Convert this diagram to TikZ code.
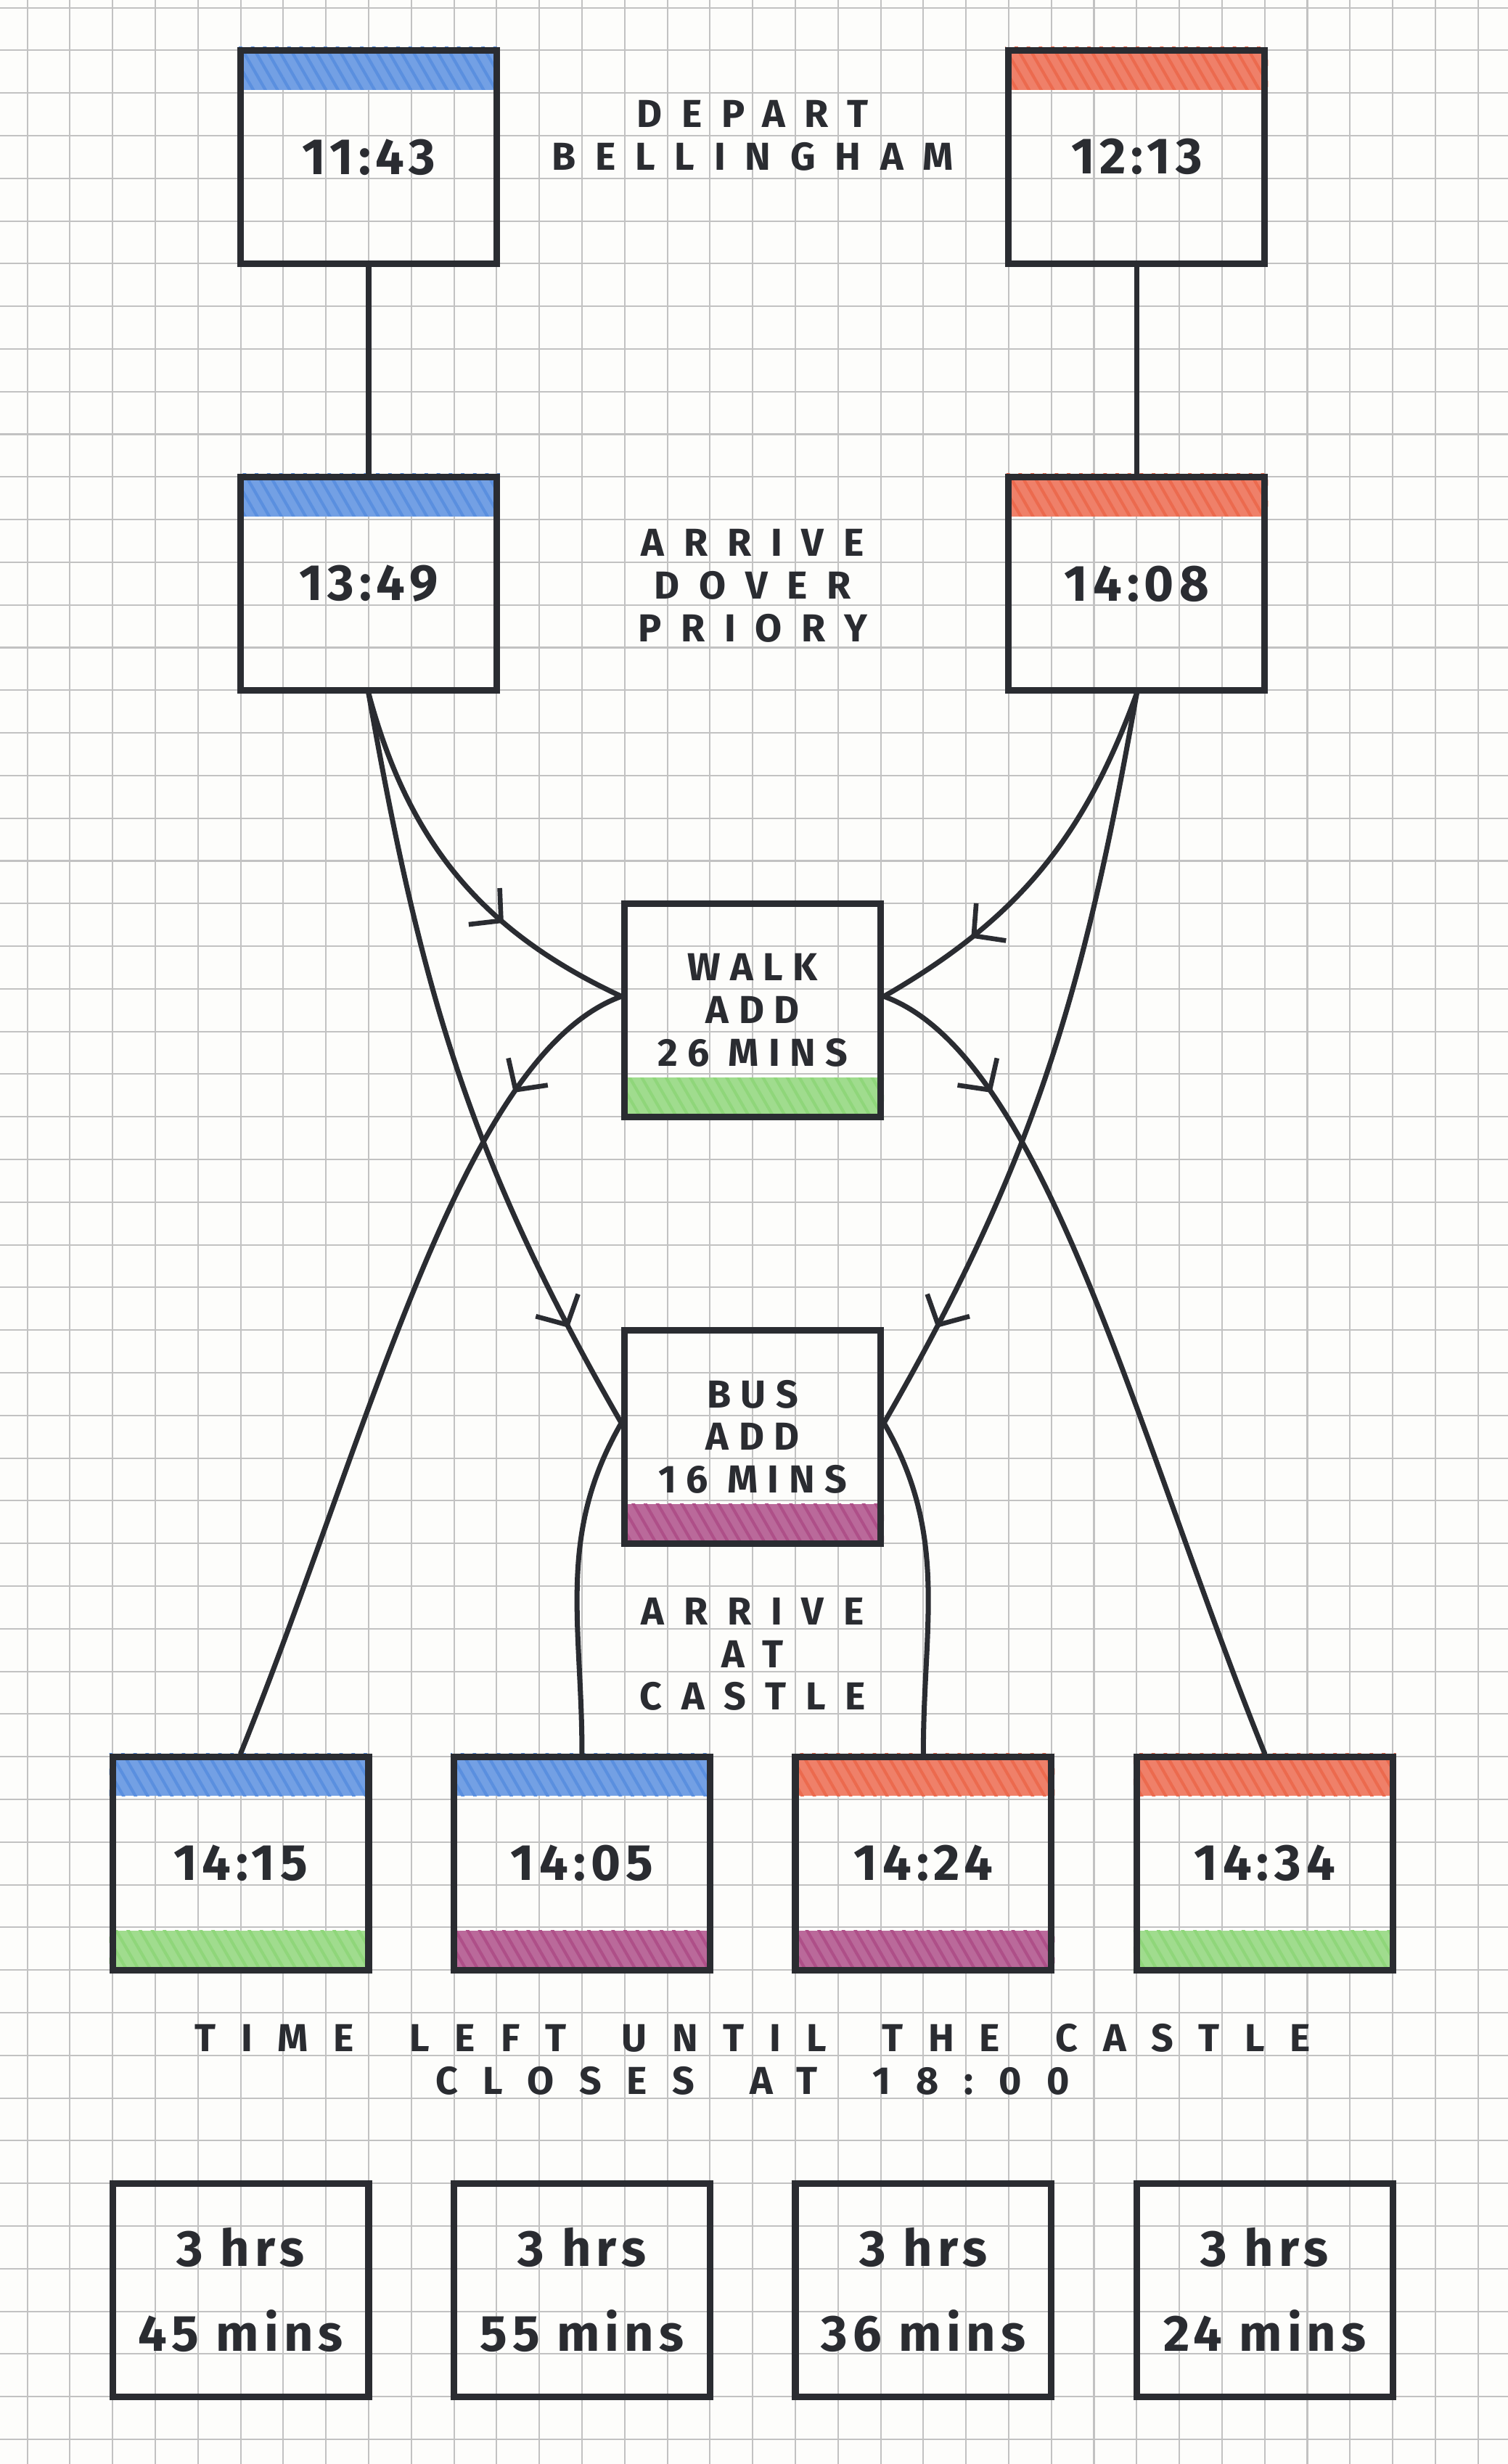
\documentclass[tikz,border=0pt]{standalone}
\usepackage{fontspec}
\setmainfont{Fira Sans}
\newfontfamily\boxfont[LetterSpace=10]{Fira Sans}
\newfontfamily\addfont[LetterSpace=25]{Fira Sans}
\newfontfamily\capsfont[LetterSpace=50, WordSpace=3.2]{Fira Sans}
\newfontfamily\closefont[LetterSpace=65, WordSpace=1.6]{Fira Sans}
\usetikzlibrary{arrows.meta,decorations.markings,patterns.meta}
\pgfdeclarelayer{background}
\pgfsetlayers{background,main}
\definecolor{ink}{HTML}{2A2C31}
\definecolor{paper}{HTML}{FDFDFB}
\definecolor{gridgrey}{HTML}{C2C2C2}
\definecolor{pblue}{HTML}{5A8FDF}
\definecolor{pred}{HTML}{EC6A4E}
\definecolor{pgreen}{HTML}{8FD67A}
\definecolor{ppurple}{HTML}{AE4F88}

\begin{document}
\begin{tikzpicture}[x=5mm, y=5mm,
  time box/.style={draw=ink, line width=2.2pt, minimum width=30mm, minimum height=25mm, inner sep=0pt, align=center, text=ink, font=\boxfont\bfseries\fontsize{17}{28.45}\selectfont},
  add box/.style={time box, font=\addfont\bfseries\fontsize{13}{14.2}\selectfont},
  caption/.style={align=center, text=ink, font=\capsfont\bfseries\fontsize{13}{14.2}\selectfont},
  grid line/.style={gridgrey, line width=0.5pt},
  link/.style={ink, line width=1.7pt, line cap=round},
  mid arrow/.style={postaction=decorate, decoration={markings, mark=at position #1 with {\arrow{Straight Barb[length=2.6mm, width=5.6mm, line width=1.6pt]}}}},
  band/.style={fill=#1!85, postaction={pattern={Lines[angle=-60, distance=3.5pt, line width=1pt]}, pattern color=#1}}]
  \useasboundingbox (-0.64,0.18) rectangle (34.70,-57.58);
  \begin{pgfonlayer}{background}
    \fill[paper] (-0.64,0.18) rectangle (34.70,-57.58);
    \foreach \gx in {0,...,34}
      \draw[grid line] (\gx,0.18) -- (\gx,-57.58);
    \foreach \gy in {0,...,57}
      \draw[grid line] (-0.64,-\gy) -- (34.70,-\gy);
  \end{pgfonlayer}

  \node (dep a) [time box] at (8,-3.5) {11:43};
  \node (dep b) [time box] at (26,-3.5) {12:13};
  \node (depart) [caption] at (17,-3) {DEPART\\BELLINGHAM};
  \node (arr a) [time box] at (8,-13.5) {13:49};
  \node (arr b) [time box] at (26,-13.5) {14:08};
  \node (dover) [caption] at (17,-13.55) {ARRIVE\\DOVER\\PRIORY};
  \node (walk) [add box] at (17,-23.5) {WALK\\ADD\\26 MINS};
  \node (bus) [add box] at (17,-33.5) {BUS\\ADD\\16 MINS};
  \node (castle) [caption] at (17,-38.6) {ARRIVE\\AT\\CASTLE};
  \foreach \t [count=\i from 0] in {14:15,14:05,14:24,14:34}
    \node (end \i) [time box] at (5+8*\i,-43.5) {\t};
  \node (closes) [caption, font=\closefont\bfseries\fontsize{13}{14.2}\selectfont] at (17,-48.1) {TIME LEFT UNTIL THE CASTLE\\CLOSES AT 18:00};
  \foreach \m [count=\i from 0] in {45,55,36,24}
    \node (left \i) [time box] at (5+8*\i,-53.5) {3 hrs\\\m\ mins};

  \begin{pgfonlayer}{background}
    \foreach \n/\c in {dep a/pblue, arr a/pblue, end 0/pblue, end 1/pblue, dep b/pred, arr b/pred, end 2/pred, end 3/pred}
      \fill[band=\c] (\n.north west) rectangle ([yshift=-5mm]\n.north east);
    \foreach \n/\c in {walk/pgreen, end 0/pgreen, end 3/pgreen, bus/ppurple, end 1/ppurple, end 2/ppurple}
      \fill[band=\c] (\n.south west) rectangle ([yshift=5mm]\n.south east);
  \end{pgfonlayer}

  \draw[link] (dep a) -- (arr a);
  \draw[link] (dep b) -- (arr b);
  \draw[link, mid arrow=0.66] (arr a.south) to[out=-75, in=155] (walk.174);
  \draw[link, mid arrow=0.74] (arr b.south) to[out=-110, in=30] (walk.6);
  \draw[link, mid arrow=0.86] (arr a.south) to[out=-80, in=120] (bus.174);
  \draw[link, mid arrow=0.86] (arr b.south) to[out=-100, in=60] (bus.6);
  \draw[link, mid arrow=0.17] (walk.174) .. controls +(200:4) and +(68:8) .. (end 0.north);
  \draw[link, mid arrow=0.17] (walk.6) .. controls +(-20:4) and +(112:8) .. (end 3.north);
  \draw[link] (bus.174) to[out=-120, in=90] (end 1.north);
  \draw[link] (bus.6) to[out=-60, in=90] (end 2.north);
\end{tikzpicture}
\end{document}
